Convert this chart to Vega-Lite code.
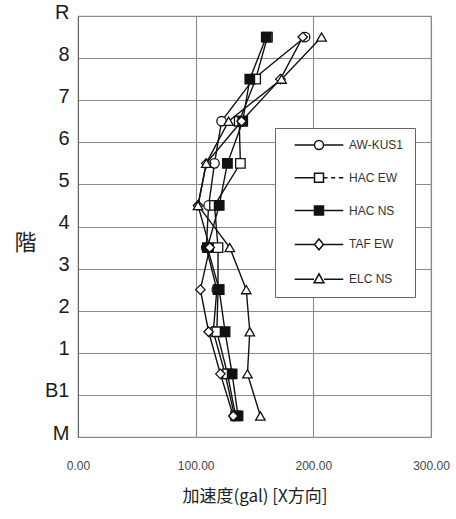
{
  "$schema": "https://vega.github.io/schema/vega-lite/v6.json",
  "width": 353,
  "height": 421,
  "autosize": {"type": "none"},
  "padding": {"left": 78, "top": 16, "right": 25, "bottom": 82},
  "background": "white",
  "config": {"view": {"stroke": "#8a8a8a", "strokeWidth": 1.2}},
  "data": {
    "values": [
      {"series": "AW-KUS1", "level": 0.5, "accel": 133},
      {"series": "AW-KUS1", "level": 1.5, "accel": 125},
      {"series": "AW-KUS1", "level": 2.5, "accel": 115},
      {"series": "AW-KUS1", "level": 3.5, "accel": 118},
      {"series": "AW-KUS1", "level": 4.5, "accel": 109},
      {"series": "AW-KUS1", "level": 5.5, "accel": 111},
      {"series": "AW-KUS1", "level": 6.5, "accel": 116},
      {"series": "AW-KUS1", "level": 7.5, "accel": 122},
      {"series": "AW-KUS1", "level": 8.5, "accel": 149},
      {"series": "AW-KUS1", "level": 9.5, "accel": 193},
      {"series": "HAC EW", "level": 0.5, "accel": 134},
      {"series": "HAC EW", "level": 1.5, "accel": 127},
      {"series": "HAC EW", "level": 2.5, "accel": 118},
      {"series": "HAC EW", "level": 3.5, "accel": 119},
      {"series": "HAC EW", "level": 4.5, "accel": 119},
      {"series": "HAC EW", "level": 5.5, "accel": 116},
      {"series": "HAC EW", "level": 6.5, "accel": 138},
      {"series": "HAC EW", "level": 7.5, "accel": 137},
      {"series": "HAC EW", "level": 8.5, "accel": 151},
      {"series": "HAC EW", "level": 9.5, "accel": 161},
      {"series": "HAC NS", "level": 0.5, "accel": 136},
      {"series": "HAC NS", "level": 1.5, "accel": 131},
      {"series": "HAC NS", "level": 2.5, "accel": 125},
      {"series": "HAC NS", "level": 3.5, "accel": 120},
      {"series": "HAC NS", "level": 4.5, "accel": 110},
      {"series": "HAC NS", "level": 5.5, "accel": 120},
      {"series": "HAC NS", "level": 6.5, "accel": 127},
      {"series": "HAC NS", "level": 7.5, "accel": 140},
      {"series": "HAC NS", "level": 8.5, "accel": 146},
      {"series": "HAC NS", "level": 9.5, "accel": 160},
      {"series": "TAF EW", "level": 0.5, "accel": 132},
      {"series": "TAF EW", "level": 1.5, "accel": 121},
      {"series": "TAF EW", "level": 2.5, "accel": 111},
      {"series": "TAF EW", "level": 3.5, "accel": 104},
      {"series": "TAF EW", "level": 4.5, "accel": 112},
      {"series": "TAF EW", "level": 5.5, "accel": 102},
      {"series": "TAF EW", "level": 6.5, "accel": 109},
      {"series": "TAF EW", "level": 7.5, "accel": 139},
      {"series": "TAF EW", "level": 8.5, "accel": 172},
      {"series": "TAF EW", "level": 9.5, "accel": 191},
      {"series": "ELC NS", "level": 0.5, "accel": 155},
      {"series": "ELC NS", "level": 1.5, "accel": 144},
      {"series": "ELC NS", "level": 2.5, "accel": 146},
      {"series": "ELC NS", "level": 3.5, "accel": 143},
      {"series": "ELC NS", "level": 4.5, "accel": 129},
      {"series": "ELC NS", "level": 5.5, "accel": 102},
      {"series": "ELC NS", "level": 6.5, "accel": 109},
      {"series": "ELC NS", "level": 7.5, "accel": 128},
      {"series": "ELC NS", "level": 8.5, "accel": 173},
      {"series": "ELC NS", "level": 9.5, "accel": 207}
    ]
  },
  "encoding": {
    "x": {
      "field": "accel",
      "type": "quantitative",
      "scale": {"domain": [0, 300], "nice": false},
      "axis": {
        "values": [0, 100, 200, 300],
        "format": ".2f",
        "labelFont": "Liberation Sans",
        "labelFontSize": 12,
        "labelColor": "#444",
        "labelPadding": 23,
        "labelFlush": false,
        "ticks": false,
        "domain": false,
        "grid": true,
        "gridColor": "#8a8a8a",
        "gridWidth": 1.1,
        "title": "加速度(gal) [X方向]",
        "titleFont": "Noto Sans CJK JP",
        "titleFontSize": 17,
        "titleFontWeight": "normal",
        "titleColor": "#222",
        "titlePadding": 17
      }
    },
    "y": {
      "field": "level",
      "type": "quantitative",
      "scale": {"domain": [0, 10], "nice": false},
      "axis": {
        "values": [0, 1, 2, 3, 4, 5, 6, 7, 8, 9, 10],
        "labelExpr": "['M','B1','1','2','3','4','5','6','7','8','R'][datum.value]",
        "labelFont": "Liberation Sans",
        "labelFontSize": 20,
        "labelColor": "#1a1a1a",
        "labelPadding": 9,
        "labelOffset": -4,
        "labelBaseline": "middle",
        "labelOverlap": false,
        "labelFlush": false,
        "ticks": false,
        "domain": true,
        "domainColor": "#666",
        "grid": true,
        "gridColor": "#8a8a8a",
        "gridWidth": 1.1,
        "title": "階",
        "titleAngle": 0,
        "titleFont": "Noto Sans CJK JP",
        "titleFontSize": 22,
        "titleFontWeight": "normal",
        "titleColor": "#222",
        "titleX": -53,
        "titleY": 226,
        "titleAlign": "center",
        "titleBaseline": "middle"
      }
    }
  },
  "layer": [
    {
      "mark": {"type": "line", "color": "#111", "strokeWidth": 1.4},
      "encoding": {
        "detail": {"field": "series", "type": "nominal"},
        "order": {"field": "level", "type": "quantitative"}
      }
    },
    {
      "mark": {"type": "point", "stroke": "#111", "strokeWidth": 1.3, "size": 90, "opacity": 1},
      "encoding": {
        "shape": {
          "field": "series",
          "type": "nominal",
          "scale": {
            "domain": ["AW-KUS1", "HAC EW", "HAC NS", "TAF EW", "ELC NS"],
            "range": ["circle", "square", "square", "diamond", "triangle-up"]
          },
          "legend": null
        },
        "fill": {
          "field": "series",
          "type": "nominal",
          "scale": {
            "domain": ["AW-KUS1", "HAC EW", "HAC NS", "TAF EW", "ELC NS"],
            "range": ["white", "white", "#111", "white", "white"]
          },
          "legend": null
        }
      }
    },
    {
      "transform": [{"filter": "false"}],
      "mark": {"type": "point", "stroke": "#111", "strokeWidth": 1.1, "opacity": 1},
      "encoding": {
        "shape": {
          "field": "series",
          "type": "nominal",
          "scale": {
            "domain": ["AW-KUS1", "HAC EW", "HAC NS", "TAF EW", "ELC NS"],
            "range": [
              "M-5.4,0H-1M1,0H5.4M1,0A1,1,0,1,1,-1,0A1,1,0,1,1,1,0Z",
              "M-5.4,0H-1M1,0H1.9M2.7,0H3.6M4.4,0H5.4M-1,-1H1V1H-1Z",
              "M-5.4,0H-1M1,0H5.4M-1,-1H1V1H-1Z",
              "M-5.4,0H-1M1,0H5.4M0,-1.2L1,0L0,1.2L-1,0Z",
              "M-5.4,0H-1.1M1.1,0H5.4M0,-1.2L1.1,0.8H-1.1Z"
            ]
          },
          "legend": {
            "orient": "none",
            "legendX": 197,
            "legendY": 112,
            "title": null,
            "fillColor": "white",
            "strokeColor": "#666",
            "padding": 11,
            "rowPadding": 16.8,
            "symbolSize": 81,
            "symbolOffset": 27,
            "labelOffset": 24,
            "labelFont": "Liberation Sans",
            "labelFontSize": 12,
            "labelColor": "#333",
            "encode": {
              "symbols": {
                "update": {
                  "stroke": {"value": "#111"},
                  "strokeWidth": {"value": 1.1},
                  "opacity": {"value": 1}
                }
              }
            }
          }
        },
        "fill": {
          "field": "series",
          "type": "nominal",
          "scale": {
            "domain": ["AW-KUS1", "HAC EW", "HAC NS", "TAF EW", "ELC NS"],
            "range": ["white", "white", "#111", "white", "white"]
          },
          "legend": {
            "orient": "none",
            "legendX": 197,
            "legendY": 112,
            "title": null,
            "fillColor": "white",
            "strokeColor": "#666",
            "padding": 11,
            "rowPadding": 16.8,
            "symbolSize": 81,
            "symbolOffset": 27,
            "labelOffset": 24,
            "labelFont": "Liberation Sans",
            "labelFontSize": 12,
            "labelColor": "#333",
            "encode": {
              "symbols": {
                "update": {
                  "stroke": {"value": "#111"},
                  "strokeWidth": {"value": 1.1},
                  "opacity": {"value": 1}
                }
              }
            }
          }
        }
      }
    }
  ],
  "resolve": {"scale": {"shape": "independent", "fill": "independent"}}
}
